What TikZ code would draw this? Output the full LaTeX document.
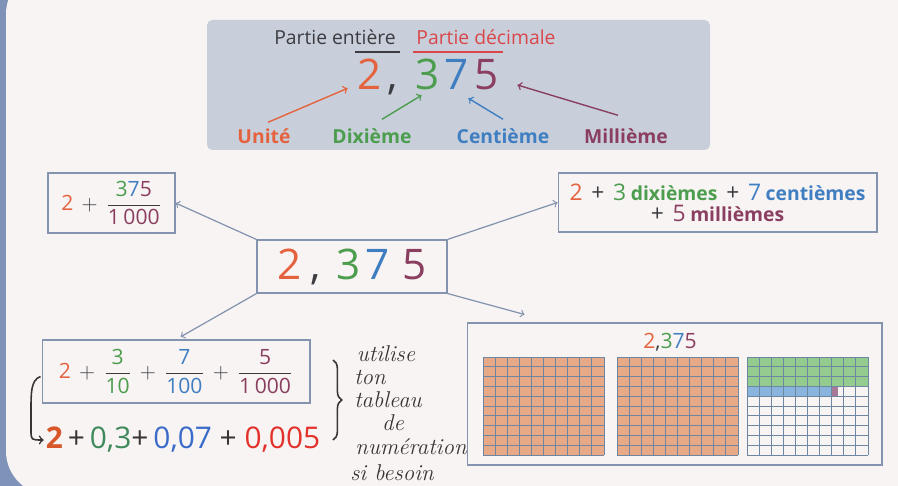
\documentclass[tikz,border=0pt]{standalone}
\usepackage{fontspec}
\usepackage{amsmath}
\setsansfont{Open Sans}
\usetikzlibrary{positioning,calc,decorations.pathreplacing}

\definecolor{edge}{HTML}{7F92B8}
\definecolor{paper}{HTML}{F8F4F4}
\definecolor{panel}{HTML}{C8CFDB}
\definecolor{boxline}{HTML}{8494AE}
\definecolor{ink2}{HTML}{3C3C40}
\definecolor{ink}{HTML}{3A3434}
\definecolor{cU}{HTML}{E4633E}
\definecolor{cPD}{HTML}{D9474A}
\definecolor{cD}{HTML}{4C9D4E}
\definecolor{cC}{HTML}{3F7EC0}
\definecolor{cM}{HTML}{8B3F60}
\definecolor{orng}{HTML}{E8A986}
\definecolor{grn}{HTML}{93CC8E}
\definecolor{blu}{HTML}{88B4DE}
\definecolor{prp}{HTML}{A87A98}
\definecolor{gridc}{HTML}{6F86A3}
\definecolor{hO}{HTML}{D8572A}
\definecolor{hG}{HTML}{3F8A5C}
\definecolor{hB}{HTML}{3A6BC9}
\definecolor{hR}{HTML}{E2322B}

\newcommand{\chif}{\fontsize{13}{14}\selectfont}
\newcommand{\mot}{\bfseries\fontsize{11}{14}\selectfont}

\begin{document}
\begin{tikzpicture}[x=0.02cm,y=-0.02cm,
  every node/.style={font=\sffamily},
  frame/.style={draw=boxline, line width=0.6pt, inner sep=0pt},
  lab/.style={font=\sffamily\bfseries\fontsize{11}{13}\selectfont},
  big/.style={font=\sffamily\fontsize{24}{28}\selectfont, inner sep=0pt, text height=17pt, text depth=0pt},
  link/.style={->, draw=boxline, line width=0.7pt},
  hand/.style={font=\rmfamily\itshape\fontsize{13}{15}\selectfont, text=ink, inner sep=0pt}]
\useasboundingbox (0,0) rectangle (898,486);
\fill[edge] (0,0) rectangle (898,486);
\fill[paper, rounded corners=25] (6,-30) rectangle (930,495);

% top panel
\fill[panel, rounded corners=3] (207,20) rectangle (710,150);
\node[font=\sffamily\fontsize{11}{13}\selectfont, text=ink2] (pe) at (335,37) {Partie entière};
\node[font=\sffamily\fontsize{11}{13}\selectfont, text=cPD] (pd) at (486,37) {Partie décimale};
\draw[ink2, line width=0.6pt] (355,52) -- (400,52);
\draw[cPD, line width=0.6pt] (413,52) -- (503,52);
\node[big, text=cU] (d2) at (370,75) {2};
\node[big, text=ink2] (vg) at (393,75) {,};
\node[big, text=cD] (d3) at (428,75) {3};
\node[big, text=cC] (d7) at (457,75) {7};
\node[big, text=cM] (d5) at (487,75) {5};
\node[lab, text=cU] (lU) at (264,136) {Unité};
\node[lab, text=cD] (lD) at (372,136) {Dixième};
\node[lab, text=cC] (lC) at (503,136) {Centième};
\node[lab, text=cM] (lM) at (626,136) {Millième};
\draw[->, cU, line width=0.8pt] ($(lU.north)+(4,0)$) -- ($(d2.south west)+(-10,-2)$);
\draw[->, cD, line width=0.8pt] ($(lD.north)+(10,-3)$) -- ($(d3.south west)+(6,5)$);
\draw[->, cC, line width=0.8pt] ($(lC.north)+(0,-3)$) -- ($(d7.south east)+(-1,8)$);
\draw[->, cM, line width=0.8pt] ($(lM.north)+(-8,-7)$) -- ($(d5.east)+(18,10)$);

% central number and its writings
\node[frame, minimum width=3.8cm, minimum height=1.06cm, font=\sffamily\fontsize{24}{28}\selectfont] (num) at (352,266.5)
  {{\color{cU}2}\hspace{5pt}{\color{ink2},}\hspace{9pt}{\color{cD}3}\hspace{3pt}{\color{cC}7}\hspace{7pt}{\color{cM}5}};
\node[frame, minimum width=2.54cm, minimum height=1.2cm, font=\sffamily\fontsize{12}{14}\selectfont, text=ink2] (ftl) at (111.5,203)
  {$\text{\color{cU}2}\,+\,\dfrac{\text{\color{cD}3\color{cC}7\color{cM}5}}{\text{\color{cM}1\,000}}$};
\node[frame, minimum width=6.38cm, minimum height=1.18cm, align=center, text=ink2] (ftr) at (717.5,202.5)
  {{\chif\color{cU}2}\enspace{\chif +}\enspace{\chif\color{cD}3} {\mot\color{cD}dixièmes}\enspace{\chif +}\enspace{\chif\color{cC}7} {\mot\color{cC}centièmes}\\
   {\chif +}\enspace{\chif\color{cM}5} {\mot\color{cM}millièmes}};
\node[frame, minimum width=5.36cm, minimum height=1.26cm, font=\sffamily\fontsize{12}{14}\selectfont, text=ink2] (fbl) at (176,371.5)
  {$\text{\color{cU}2}\,+\,\dfrac{\text{\color{cD}3}}{\text{\color{cD}10}}\,+\,\dfrac{\text{\color{cC}7}}{\text{\color{cC}100}}\,+\,\dfrac{\text{\color{cM}5}}{\text{\color{cM}1\,000}}$};
\node[frame, minimum width=8.3cm, minimum height=2.84cm] (gbox) at (674.5,394) {};
\node[font=\sffamily\fontsize{12}{14}\selectfont] (gt) at (670,342)
  {{\color{cU}2}{\color{ink2},}{\color{cD}3}{\color{cC}7}{\color{cM}5}};
\draw[link] (num.north west) -- (ftl.east);
\draw[link] (num.north east) -- (ftr.west);
\draw[link, shorten >=3pt] (num.south west) -- (fbl.north);
\draw[link] (num.south east) -- ($(gbox.north west)+(58,-8)$);

% grids
\foreach \gx in {483,617} {
  \begin{scope}[shift={(\gx,357)}, x=0.242cm, y=-0.196cm]
    \fill[orng] (0,0) rectangle (10,10);
    \foreach \i in {0,...,10} {
      \draw[gridc, line width=0.5pt] (\i,0) -- (\i,10);
      \draw[gridc, line width=0.5pt] (0,\i) -- (10,\i);
    }
  \end{scope}
}
\begin{scope}[shift={(747,357)}, x=0.242cm, y=-0.196cm]
  \fill[grn] (0,0) rectangle (10,3);
  \fill[blu] (0,3) rectangle (7,4);
  \fill[prp] (7,3) rectangle (7.5,4);
  \foreach \i in {0,...,10} {
    \draw[gridc, line width=0.5pt] (\i,0) -- (\i,10);
    \draw[gridc, line width=0.5pt] (0,\i) -- (10,\i);
  }
\end{scope}

% handwritten part
\node[font=\sffamily\fontsize{17}{20}\selectfont, text=ink, inner sep=1pt] (hsum) at (183,440)
  {{\color{hO}\bfseries 2}\,+\,{\color{hG}0,3}+\,{\color{hB}0,07} + {\color{hR}0,005}};
\draw[->, ink, line width=0.9pt] ($(fbl.west)+(-1,5)$) .. controls (31,380) and (31,392) .. (31,410)
  -- (31,430) .. controls (31,440) .. (hsum.west);
\draw[ink, line width=0.9pt, decorate, decoration={brace, amplitude=5pt}] (333,360) -- (333,440);
\node[hand] (n1) at (386,354) {utilise};
\node[hand] (n2) at (370,377) {ton};
\node[hand] (n3) at (388,400) {tableau};
\node[hand] (n4) at (393,423) {de};
\node[hand] (n5) at (411,447) {numération};
\node[hand] (n6) at (392,473) {si besoin};
\end{tikzpicture}
\end{document}
